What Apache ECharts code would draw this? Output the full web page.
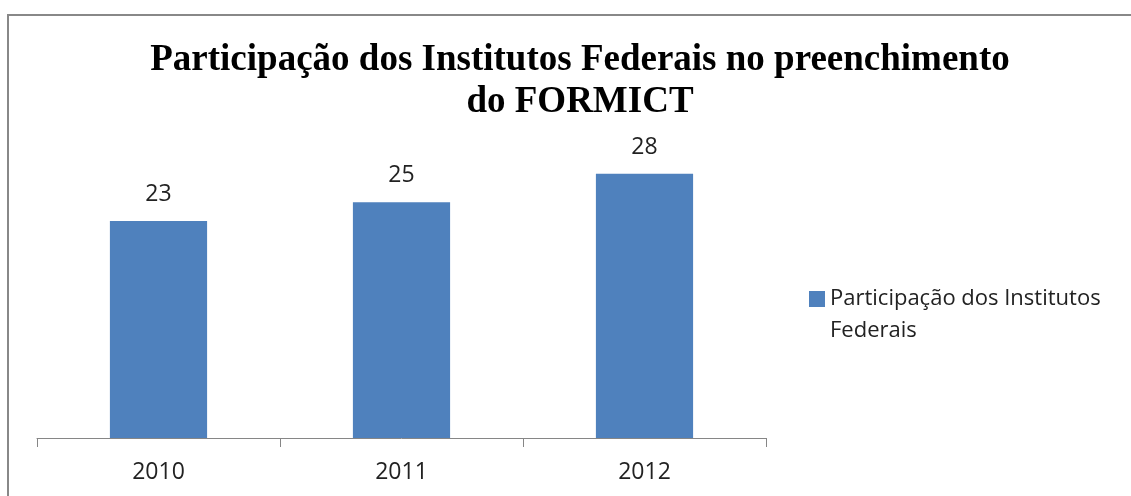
<!DOCTYPE html>
<html lang="pt">
<head>
    <meta charset="UTF-8">
    <title>FORMICT</title>
    <script src="https://cdn.jsdelivr.net/npm/echarts@6/dist/echarts.min.js"></script>
    <style>
        html, body { margin: 0; padding: 0; background: #fff; }
        #chart { width: 1131px; height: 496px; }
    </style>
</head>
<body>
<div id="chart"></div>
<script type="text/javascript">
    // dados
    var anos = ['2010', '2011', '2012'];
    var participacao = [23, 25, 28];
    var serieNome = 'Participação dos Institutos Federais';

    var myChart = echarts.init(document.getElementById('chart'));

    var option = {
        animation: false,
        backgroundColor: '#fff',
        color: ['#4F81BD'],
        title: {
            text: 'Participação dos Institutos Federais no preenchimento\ndo FORMICT',
            left: 575,
            top: 34,
            textAlign: 'center',
            textStyle: {
                fontFamily: 'Liberation Serif',
                fontWeight: 'bold',
                fontSize: 37,
                lineHeight: 42,
                color: '#000'
            }
        },
        legend: {
            orient: 'vertical',
            left: 809,
            top: 288,
            padding: 0,
            itemWidth: 16,
            itemHeight: 16,
            icon: 'rect',
            // a legenda quebra em duas linhas, a segunda vai como texto abaixo
            formatter: function (name) {
                return 'Participação dos Institutos';
            },
            textStyle: {
                fontFamily: 'Open Sans',
                fontSize: 22,
                color: '#222'
            }
        },
        grid: {
            left: 37,
            right: 365,
            top: 155,
            bottom: 58
        },
        xAxis: {
            type: 'category',
            data: anos,
            axisLine: { lineStyle: { color: '#868686', width: 1 } },
            axisTick: { show: true, length: 9, lineStyle: { color: '#868686' } },
            axisLabel: {
                margin: 23,
                fontFamily: 'Open Sans',
                fontSize: 23,
                color: '#222'
            }
        },
        yAxis: {
            type: 'value',
            min: 0,
            max: 30,
            show: false,
            splitLine: { show: false }
        },
        series: [{
            name: serieNome,
            type: 'bar',
            data: participacao,
            barWidth: '40%',
            label: {
                show: true,
                position: 'top',
                distance: 15,
                fontFamily: 'Open Sans',
                fontSize: 23,
                color: '#222'
            }
        }],
        graphic: [{
            type: 'rect',
            shape: { x: 8, y: 15, width: 1140, height: 520 },
            style: { fill: 'none', stroke: '#888', lineWidth: 2 },
            silent: true
        }, {
            type: 'text',
            left: 830,
            top: 320,
            style: {
                text: 'Federais',
                font: '22px "Open Sans"',
                fill: '#222'
            },
            silent: true
        }]
    };
    myChart.setOption(option);
</script>
</body>
</html>
